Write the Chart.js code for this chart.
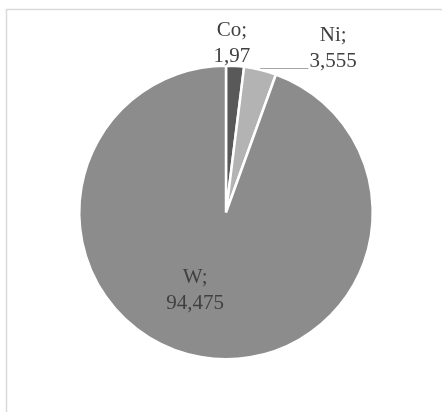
<!DOCTYPE html>
<html>
<head>
<meta charset="utf-8">
<script src="https://cdn.jsdelivr.net/npm/chart.js@4"></script>
<style>
	body { margin: 0; background: #ffffff; }
	#wrap { width: 442px; height: 412px; position: relative; }
</style>
</head>
<body>
<div id="wrap"><canvas id="myChart"></canvas></div>
<script>
// pie data
const labels = ["Co", "Ni", "W"];
const values = [1.97, 3.555, 94.475];
const valueTexts = ["1,97", "3,555", "94,475"];
const colors = ["#595959", "#b3b3b3", "#8c8c8c"];

// label block position, relative to the pie centre, in units of the radius
const labelPos = [
	{ kx: 0.04, ky: -1.15, leader: false },
	{ kx: 0.73, ky: -1.12, leader: true },
	{ kx: -0.21, ky: 0.53, leader: false },
];

const frame = {
	id: "frame",
	beforeDraw(chart) {
		const ctx = chart.ctx;
		ctx.save();
		ctx.strokeStyle = "#d9d9d9";
		ctx.lineWidth = 1.5;
		ctx.strokeRect(6.5, 9.5, 600, 600); // border goes past the right / bottom edge
		ctx.restore();
	},
};

const pieLabels = {
	id: "pieLabels",
	afterDatasetsDraw(chart) {
		const ctx = chart.ctx;
		const arcs = chart.getDatasetMeta(0).data;
		ctx.save();
		ctx.font = "21px 'Liberation Serif'";
		ctx.fillStyle = "#404040";
		ctx.textAlign = "center";
		ctx.textBaseline = "middle";
		arcs.forEach((arc, i) => {
			const r = arc.outerRadius;
			const cx = arc.x + labelPos[i].kx * r;
			const cy = arc.y + labelPos[i].ky * r;
			ctx.fillText(labels[i] + ";", cx, cy - 13);
			ctx.fillText(valueTexts[i], cx, cy + 13);

			if (labelPos[i].leader) {
				// leader line from the middle of the slice edge to the value text
				const mid = (arc.startAngle + arc.endAngle) / 2;
				const sx = arc.x + Math.cos(mid) * r;
				const sy = arc.y + Math.sin(mid) * r - 2;
				const ex = cx - ctx.measureText(valueTexts[i]).width / 2 - 1;
				ctx.strokeStyle = "#a6a6a6";
				ctx.lineWidth = 1;
				ctx.beginPath();
				ctx.moveTo(sx, Math.round(sy) + 0.5);
				ctx.lineTo(ex, Math.round(sy) + 0.5);
				ctx.stroke();
			}
		});
		ctx.restore();
	},
};

const ctx = document.getElementById("myChart").getContext("2d");
const chart = new Chart(ctx, {
	type: "pie",
	data: {
		labels: labels,
		datasets: [
			{
				data: values,
				backgroundColor: colors,
				borderColor: "#ffffff",
				borderWidth: 2.5,
			},
		],
	},
	options: {
		responsive: true,
		maintainAspectRatio: false,
		animation: false,
		layout: {
			padding: { left: 78, right: 68, top: 64, bottom: 51 },
		},
		plugins: {
			legend: { display: false },
			tooltip: { enabled: false },
		},
	},
	plugins: [frame, pieLabels],
});
</script>
</body>
</html>
